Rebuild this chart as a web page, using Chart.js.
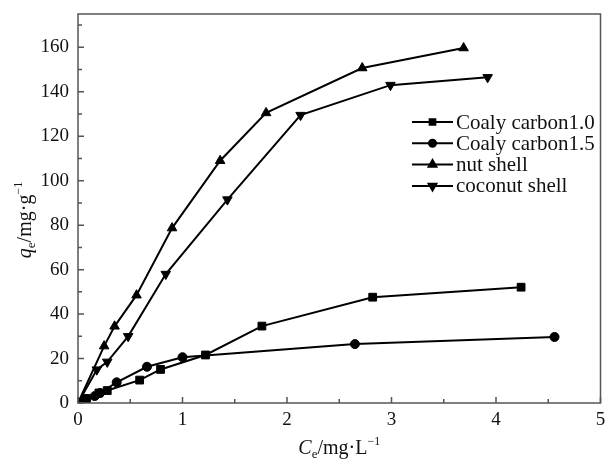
<!DOCTYPE html>
<html>
<head>
<meta charset="utf-8">
<script src="https://cdn.jsdelivr.net/npm/chart.js@4/dist/chart.umd.min.js"></script>
<style>
  html, body { margin: 0; padding: 0; background: #fff; }
  #wrap { width: 607px; height: 461px; }
</style>
</head>
<body>
<div id="wrap"><canvas id="c" width="607" height="461"></canvas></div>
<script>
// series data
const seriesNames = ['Coaly carbon1.0', 'Coaly carbon1.5', 'nut shell', 'coconut shell'];
const coal10X = [0, 0.08, 0.2, 0.28, 0.59, 0.79, 1.22, 1.76, 2.82, 4.24];
const coal10Y = [0, 2.0, 4.5, 5.6, 10.3, 15.1, 21.6, 34.6, 47.6, 52.1];
const coal15X = [0, 0.08, 0.16, 0.21, 0.37, 0.66, 1.0, 2.65, 4.56];
const coal15Y = [0, 1.8, 3.1, 4.5, 9.3, 16.3, 20.6, 26.5, 29.7];
const nutX = [0, 0.25, 0.35, 0.56, 0.9, 1.36, 1.8, 2.72, 3.69];
const nutY = [0, 25.6, 34.5, 48.5, 78.7, 109, 130.5, 150.7, 159.7];
const cocoX = [0, 0.18, 0.28, 0.48, 0.84, 1.43, 2.13, 2.99, 3.92];
const cocoY = [0, 15, 18.5, 30, 58, 91.5, 129.5, 143, 146.5];

const xTicks = [0, 0.5, 1, 1.5, 2, 2.5, 3, 3.5, 4, 4.5, 5];
const yTicks = [0, 10, 20, 30, 40, 50, 60, 70, 80, 90, 100, 110, 120, 130, 140, 150, 160, 170];

const pts = (xs, ys) => xs.map((x, i) => ({ x: x, y: ys[i] }));
const FONT = "'Liberation Serif', 'Times New Roman', serif";

const markers = [
    { style: 'rect', radius: 5.5, legend: 4, rotation: 0 },
    { style: 'circle', radius: 4.5, legend: 3.5, rotation: 0 },
    { style: 'triangle', radius: 5.5, legend: 4.5, rotation: 0 },
    { style: 'triangle', radius: 5.5, legend: 4.5, rotation: 180 }
];
const allData = [pts(coal10X, coal10Y), pts(coal15X, coal15Y), pts(nutX, nutY), pts(cocoX, cocoY)];

const datasets = allData.map((d, i) => ({
    label: seriesNames[i],
    data: d,
    showLine: true,
    borderColor: '#000',
    backgroundColor: '#000',
    borderWidth: 2,
    pointStyle: markers[i].style,
    pointRadius: markers[i].radius,
    pointRotation: markers[i].rotation,
    pointBackgroundColor: '#000',
    pointBorderColor: '#000',
    pointBorderWidth: 1
}));

// draws text pieces one after another
function drawRich(ctx, parts, x, y) {
    let cx = x;
    parts.forEach(p => {
        ctx.font = (p.italic ? 'italic ' : '') + p.size + 'px ' + FONT;
        ctx.fillText(p.t, cx, y + (p.dy || 0));
        cx += ctx.measureText(p.t).width;
    });
}
function richWidth(ctx, parts) {
    let w = 0;
    parts.forEach(p => {
        ctx.font = (p.italic ? 'italic ' : '') + p.size + 'px ' + FONT;
        w += ctx.measureText(p.t).width;
    });
    return w;
}

const decorPlugin = {
    id: 'decor',
    afterDraw(chart) {
        const ctx = chart.ctx;
        const a = chart.chartArea;
        const xs = chart.scales.x, ys = chart.scales.y;
        ctx.save();
        // frame
        ctx.strokeStyle = '#555';
        ctx.lineWidth = 1.5;
        ctx.strokeRect(a.left, a.top, a.right - a.left, a.bottom - a.top);
        // inward ticks
        ctx.beginPath();
        xTicks.forEach(v => {
            const px = xs.getPixelForValue(v);
            const len = Number.isInteger(v) ? 6 : 4;
            ctx.moveTo(px, a.bottom);
            ctx.lineTo(px, a.bottom - len);
        });
        yTicks.forEach(v => {
            const py = ys.getPixelForValue(v);
            const len = v % 20 === 0 ? 6 : 4;
            ctx.moveTo(a.left, py);
            ctx.lineTo(a.left + len, py);
        });
        ctx.stroke();

        // axis titles
        ctx.fillStyle = '#111';
        ctx.textBaseline = 'alphabetic';
        ctx.textAlign = 'left';
        const xt = [
            { t: 'C', italic: true, size: 20 },
            { t: 'e', italic: false, size: 13, dy: 4 },
            { t: '/mg·L', italic: false, size: 20 },
            { t: '−1', italic: false, size: 12, dy: -9 }
        ];
        const xw = richWidth(ctx, xt);
        drawRich(ctx, xt, (a.left + a.right) / 2 - xw / 2, 454);

        const yt = [
            { t: 'q', italic: true, size: 20 },
            { t: 'e', italic: false, size: 13, dy: 4 },
            { t: '/mg·g', italic: false, size: 20 },
            { t: '−1', italic: false, size: 12, dy: -9 }
        ];
        const yw = richWidth(ctx, yt);
        ctx.save();
        ctx.translate(31, 220);
        ctx.rotate(-Math.PI / 2);
        drawRich(ctx, yt, -yw / 2, 0);
        ctx.restore();

        // legend
        const lx0 = 412, lx1 = 453, ly0 = 122, step = 21.3;
        seriesNames.forEach((name, i) => {
            const y = ly0 + i * step;
            ctx.strokeStyle = '#000';
            ctx.lineWidth = 2;
            ctx.beginPath();
            ctx.moveTo(lx0, y);
            ctx.lineTo(lx1, y);
            ctx.stroke();
            ctx.fillStyle = '#000';
            Chart.helpers.drawPoint(ctx, {
                pointStyle: markers[i].style,
                radius: markers[i].legend,
                rotation: markers[i].rotation,
                borderWidth: 1
            }, (lx0 + lx1) / 2, y);
            ctx.fillStyle = '#111';
            ctx.font = '21px ' + FONT;
            ctx.textBaseline = 'middle';
            ctx.fillText(name, lx1 + 3, y + 1);
        });
        ctx.restore();
    }
};

new Chart(document.getElementById('c'), {
    type: 'scatter',
    data: { datasets: datasets },
    options: {
        responsive: false,
        animation: false,
        layout: { padding: { left: 0, top: 14, right: 5, bottom: 0 } },
        plugins: { legend: { display: false }, tooltip: { enabled: false } },
        scales: {
            x: {
                type: 'linear',
                min: 0,
                max: 5,
                afterBuildTicks: s => { s.ticks = [0, 1, 2, 3, 4, 5].map(v => ({ value: v })); },
                afterFit: s => { s.height = 58; s.paddingLeft = 0; s.paddingRight = 0; },
                grid: { display: false, drawTicks: false },
                border: { display: false },
                ticks: {
                    color: '#111',
                    padding: 6,
                    font: { family: FONT, size: 19 },
                    maxRotation: 0
                }
            },
            y: {
                type: 'linear',
                min: 0,
                max: 175,
                afterBuildTicks: s => { s.ticks = [0, 20, 40, 60, 80, 100, 120, 140, 160].map(v => ({ value: v })); },
                afterFit: s => { s.width = 78; s.paddingTop = 0; s.paddingBottom = 0; },
                grid: { display: false, drawTicks: false },
                border: { display: false },
                ticks: {
                    color: '#111',
                    padding: 9,
                    font: { family: FONT, size: 19 }
                }
            }
        }
    },
    plugins: [decorPlugin]
});
</script>
</body>
</html>
